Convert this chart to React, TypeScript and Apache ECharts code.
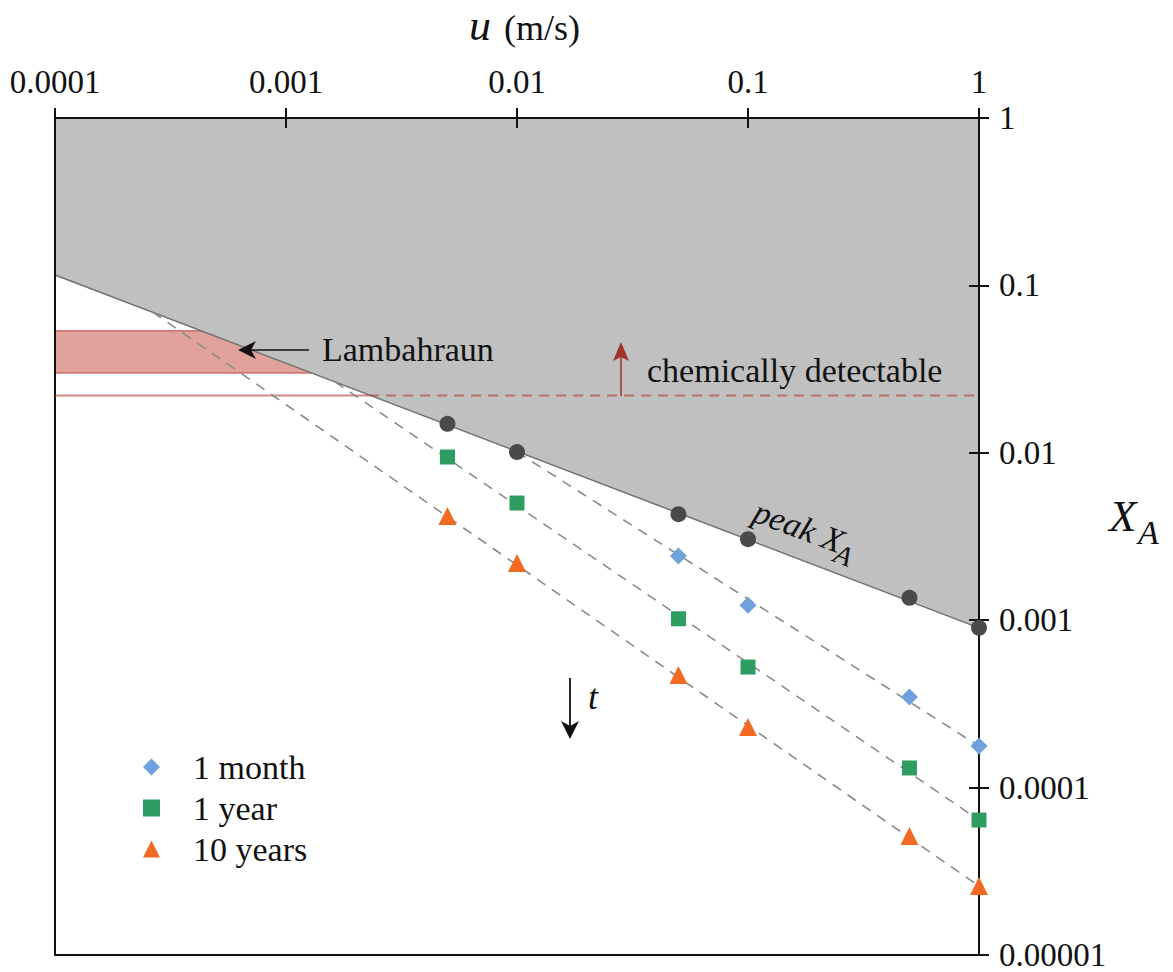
import React, { useEffect, useRef } from "react";
import * as echarts from "echarts";

const FONT = "'Liberation Serif', 'Times New Roman', Times, serif";

// Tick labels for the two logarithmic axes
const xTickLabels = ["0.0001", "0.001", "0.01", "0.1", "1"];
const yTickLabels = ["0.00001", "0.0001", "0.001", "0.01", "0.1", "1"];

// Flow velocity u (m/s) at which the simulations were run
const velocities = [0.005, 0.01, 0.05, 0.1, 0.5, 1];
const monthVelocities = [0.05, 0.1, 0.5, 1];

// Peak mole fraction and values after 1 month / 1 year / 10 years
const peakXA = [0.0149, 0.0101, 0.0043, 0.00305, 0.00136, 0.0009];
const monthXA = [0.00242, 0.00123, 0.000348, 0.000177];
const yearXA = [0.00944, 0.00501, 0.00102, 0.000525, 0.000131, 0.000064];
const decadeXA = [0.00419, 0.0022, 0.000471, 0.00023, 0.0000514, 0.0000258];

// Peak envelope (upper bound of the shaded region)
const envelopeU = [0.0001, 1];
const envelopeXA = [0.1153, 0.0009];

// Dashed trend lines, each starting on the envelope and ending at u = 1
const monthTrendU = [0.01, 1];
const monthTrendXA = [0.0101, 0.000177];
const yearTrendU = [0.00163, 1];
const yearTrendXA = [0.0265, 0.000064];
const decadeTrendU = [0.000265, 1];
const decadeTrendXA = [0.0693, 0.0000258];

// Lambahraun observed range and chemical detection limit
const lambahraunXA = [0.03, 0.0536];
const detectionXA = 0.022;
const detectionCrossU = 0.00229;

const zip = (xs: number[], ys: number[]) => xs.map((x, i) => [x, ys[i]]);
const logIndex = (v: number) => Math.round(Math.log10(v));

const baseLog = { type: "log" as const, logBase: 10, splitLine: { show: false }, minorTick: { show: false }, z: 3 };
const black = { color: "#111", width: 2 };

const label = (text: string, x: number, y: number, size: number, extra: any = {}) => ({
  type: "text", x, y, z: 10,
  style: { text, fontSize: size, fontFamily: FONT, fill: "#111", align: "left", verticalAlign: "middle", ...extra },
});

export default function App() {
  const ref = useRef<HTMLDivElement>(null);

  useEffect(() => {
    if (!ref.current) return;
    const chart = echarts.init(ref.current, undefined, { renderer: "svg" });

    const option: any = {
      animation: false,
      grid: { left: 55, right: 194, top: 118, bottom: 17, containLabel: false },
      xAxis: [
        {
          ...baseLog, min: 0.0001, max: 1, position: "top",
          axisLine: { show: true, lineStyle: black },
          axisTick: { show: true, inside: true, length: 10, lineStyle: black },
          axisLabel: {
            show: true, fontSize: 33, fontFamily: FONT, color: "#111", margin: 20,
            formatter: (v: number) => xTickLabels[logIndex(v) + 4],
          },
        },
        {
          ...baseLog, min: 0.0001, max: 1, position: "top",
          axisLine: { show: false },
          axisTick: { show: true, inside: false, length: 10, lineStyle: black },
          axisLabel: { show: false },
        },
        {
          ...baseLog, min: 0.0001, max: 1, position: "bottom",
          axisLine: { show: true, lineStyle: black },
          axisTick: { show: false }, axisLabel: { show: false },
        },
      ],
      yAxis: [
        {
          ...baseLog, min: 0.00001, max: 1, position: "right",
          axisLine: { show: true, lineStyle: black },
          axisTick: { show: true, inside: true, length: 10, lineStyle: black },
          axisLabel: {
            show: true, fontSize: 33, fontFamily: FONT, color: "#111", margin: 20,
            formatter: (v: number) => yTickLabels[logIndex(v) + 5],
          },
        },
        {
          ...baseLog, min: 0.00001, max: 1, position: "right",
          axisLine: { show: false },
          axisTick: { show: true, inside: false, length: 10, lineStyle: black },
          axisLabel: { show: false },
        },
        {
          ...baseLog, min: 0.00001, max: 1, position: "left",
          axisLine: { show: true, lineStyle: black },
          axisTick: { show: false }, axisLabel: { show: false },
        },
      ],
      legend: {
        data: ["1 month", "1 year", "10 years"],
        orient: "vertical",
        left: 138,
        top: 745,
        itemWidth: 17,
        itemHeight: 17,
        itemGap: 7,
        textStyle: { fontSize: 34, fontFamily: FONT, color: "#111", padding: [0, 0, 0, 28] },
      },
      series: [
        // Lambahraun band (edges + fill), partly covered by the envelope shading
        {
          type: "line", name: "band-low", z: 1, silent: true, symbol: "none",
          data: zip(envelopeU, [lambahraunXA[0], lambahraunXA[0]]),
          lineStyle: { color: "rgba(185,60,55,0.65)", width: 1.5 },
          markArea: {
            silent: true,
            itemStyle: { color: "rgba(195,70,58,0.5)" },
            data: [[{ xAxis: envelopeU[0], yAxis: lambahraunXA[0] }, { xAxis: envelopeU[1], yAxis: lambahraunXA[1] }]],
          },
        },
        {
          type: "line", name: "band-high", z: 1, silent: true, symbol: "none",
          data: zip(envelopeU, [lambahraunXA[1], lambahraunXA[1]]),
          lineStyle: { color: "rgba(185,60,55,0.65)", width: 1.5 },
        },
        // Shaded region above the peak envelope
        {
          type: "line", name: "envelope", z: 2, silent: true, symbol: "none",
          data: zip(envelopeU, envelopeXA),
          lineStyle: { color: "#707070", width: 1.5 },
          areaStyle: { color: "#c0c0c0", opacity: 1, origin: "end" },
        },
        // Detection limit: solid below the envelope, dashed inside the shading
        {
          type: "line", name: "detect-solid", z: 3, silent: true, symbol: "none",
          data: zip([envelopeU[0], detectionCrossU], [detectionXA, detectionXA]),
          lineStyle: { color: "rgba(178,60,55,0.6)", width: 2 },
        },
        {
          type: "line", name: "detect-dashed", z: 3, silent: true, symbol: "none",
          data: zip([detectionCrossU, envelopeU[1]], [detectionXA, detectionXA]),
          lineStyle: { color: "rgba(178,60,55,0.6)", width: 2, type: [10, 7] },
        },
        // Dashed decay trends
        ...[
          zip(monthTrendU, monthTrendXA),
          zip(yearTrendU, yearTrendXA),
          zip(decadeTrendU, decadeTrendXA),
        ].map((d) => ({
          type: "line", z: 3, silent: true, symbol: "none", data: d,
          lineStyle: { color: "#8a8a8a", width: 1.6, type: [10, 8] },
        })),
        // Markers
        {
          type: "scatter", name: "peak", z: 4, symbol: "circle", symbolSize: 16,
          data: zip(velocities, peakXA), itemStyle: { color: "#4a4a4a", opacity: 1 },
        },
        {
          type: "scatter", name: "1 month", z: 4, symbol: "diamond", symbolSize: 17,
          data: zip(monthVelocities, monthXA), itemStyle: { color: "#6fa2dc", opacity: 1 },
        },
        {
          type: "scatter", name: "1 year", z: 4, symbol: "rect", symbolSize: 15,
          data: zip(velocities, yearXA), itemStyle: { color: "#2e9d62", opacity: 1 },
        },
        {
          type: "scatter", name: "10 years", z: 4, symbol: "triangle", symbolSize: 18,
          data: zip(velocities, decadeXA), itemStyle: { color: "#f26a21", opacity: 1 },
        },
      ],
      graphic: [
        // top axis title: u (m/s)
        label("u", 469, 25, 44, { fontStyle: "italic" }),
        label("(m/s)", 504, 28, 36),
        // right axis title: X_A
        label("X", 1109, 516, 45, { fontStyle: "italic" }),
        label("A", 1138, 532, 34, { fontStyle: "italic" }),
        // peak X_A along the envelope
        {
          type: "group", x: 755, y: 510, rotation: -0.36, z: 10,
          children: [
            { type: "text", x: 0, y: 0, z: 10, style: { text: "peak X", fontSize: 34, fontStyle: "italic", fontFamily: FONT, fill: "#111", align: "left", verticalAlign: "middle" } },
            { type: "text", x: 90, y: 11, z: 10, style: { text: "A", fontSize: 28, fontStyle: "italic", fontFamily: FONT, fill: "#111", align: "left", verticalAlign: "middle" } },
          ],
        },
        // Lambahraun label and arrow
        label("Lambahraun", 322, 349, 34),
        { type: "line", z: 10, shape: { x1: 309, y1: 350, x2: 250, y2: 350 }, style: { stroke: "#111", lineWidth: 1.5 } },
        { type: "polygon", z: 10, shape: { points: [[238, 350], [256, 341], [251, 350], [256, 359]] }, style: { fill: "#111" } },
        // chemically detectable label and arrow
        label("chemically detectable", 647, 370, 34),
        { type: "line", z: 10, shape: { x1: 621, y1: 396, x2: 621, y2: 354 }, style: { stroke: "#a2322c", lineWidth: 1.5 } },
        { type: "polygon", z: 10, shape: { points: [[621, 342], [613, 361], [621, 357], [629, 361]] }, style: { fill: "#a2322c" } },
        // time direction arrow
        { type: "line", z: 10, shape: { x1: 570, y1: 678, x2: 570, y2: 728 }, style: { stroke: "#111", lineWidth: 1.8 } },
        { type: "polygon", z: 10, shape: { points: [[570, 739], [561, 721], [570, 726], [579, 721]] }, style: { fill: "#111" } },
        label("t", 588, 697, 36, { fontStyle: "italic" }),
      ],
    };

    chart.setOption(option);
    return () => chart.dispose();
  }, []);

  return <div ref={ref} style={{ position: "absolute", left: 0, top: 0, width: 1173, height: 972 }} />;
}
